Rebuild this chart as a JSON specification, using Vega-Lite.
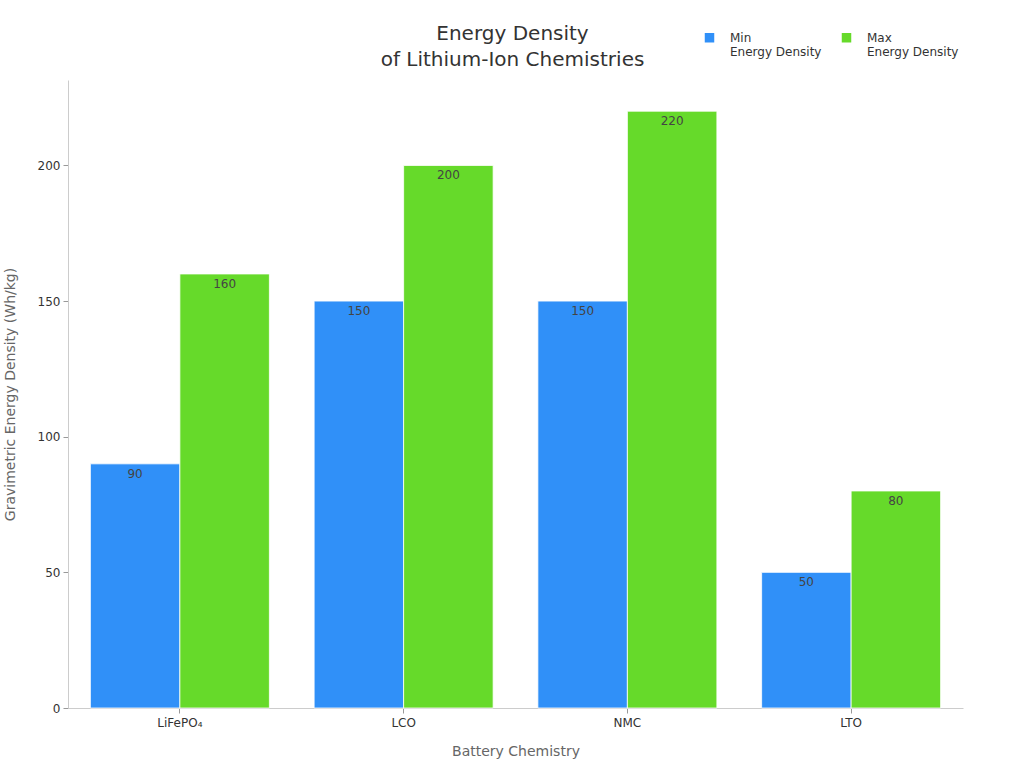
{
  "$schema": "https://vega.github.io/schema/vega-lite/v6.json",
  "width": 895,
  "height": 628,
  "autosize": {"type": "none"},
  "padding": {"left": 68, "top": 80, "right": 61, "bottom": 60},
  "background": "white",
  "config": {
    "font": "DejaVu Sans",
    "view": {"stroke": null},
    "axis": {"grid": false, "domainColor": "#cccccc", "tickColor": "#999999", "labelColor": "#333333", "labelFontSize": 12, "titleColor": "#666666", "titleFontSize": 14, "titleFontWeight": "normal"}
  },
  "title": {
    "text": ["Energy Density", "of Lithium-Ion Chemistries"],
    "fontSize": 20,
    "fontWeight": "normal",
    "color": "#333333",
    "anchor": "middle",
    "lineHeight": 26,
    "offset": 12,
    "dy": 51,
    "dx": -3
  },
  "data": {
    "values": [
      {"chem": "LiFePO₄", "series": "Min Energy Density", "value": 90},
      {"chem": "LiFePO₄", "series": "Max Energy Density", "value": 160},
      {"chem": "LCO", "series": "Min Energy Density", "value": 150},
      {"chem": "LCO", "series": "Max Energy Density", "value": 200},
      {"chem": "NMC", "series": "Min Energy Density", "value": 150},
      {"chem": "NMC", "series": "Max Energy Density", "value": 220},
      {"chem": "LTO", "series": "Min Energy Density", "value": 50},
      {"chem": "LTO", "series": "Max Energy Density", "value": 80}
    ]
  },
  "encoding": {
    "x": {
      "field": "chem", "type": "nominal", "sort": null,
      "scale": {"paddingInner": 0.2, "paddingOuter": 0.1},
      "axis": {"title": "Battery Chemistry", "labelAngle": 0, "titlePadding": 16, "labelPadding": 4}
    },
    "xOffset": {"field": "series", "sort": ["Min Energy Density", "Max Energy Density"]},
    "y": {
      "field": "value", "type": "quantitative",
      "scale": {"domain": [0, 231.5], "nice": false},
      "axis": {"title": "Gravimetric Energy Density (Wh/kg)", "values": [0, 50, 100, 150, 200], "titlePadding": 20, "labelPadding": 3}
    }
  },
  "layer": [
    {
      "mark": {"type": "bar", "stroke": "white", "strokeWidth": 0.8},
      "encoding": {
        "color": {
          "field": "series", "type": "nominal",
          "sort": ["Min Energy Density", "Max Energy Density"],
          "scale": {"domain": ["Min Energy Density", "Max Energy Density"], "range": ["#3090f8", "#66da2a"]},
          "legend": {
            "title": null,
            "orient": "none",
            "direction": "horizontal",
            "legendX": 635,
            "legendY": -49,
            "symbolType": "square",
            "symbolSize": 121,
            "labelFontSize": 12,
            "labelColor": "#333333",
            "labelOffset": 14,
            "columnPadding": 16,
            "labelExpr": "datum.label == 'Min Energy Density' ? ['Min', 'Energy Density'] : ['Max', 'Energy Density']"
          }
        }
      }
    },
    {
      "mark": {"type": "text", "baseline": "middle", "dy": 10, "fontSize": 12, "color": "#444444"},
      "encoding": {"text": {"field": "value", "type": "quantitative"}}
    }
  ]
}
